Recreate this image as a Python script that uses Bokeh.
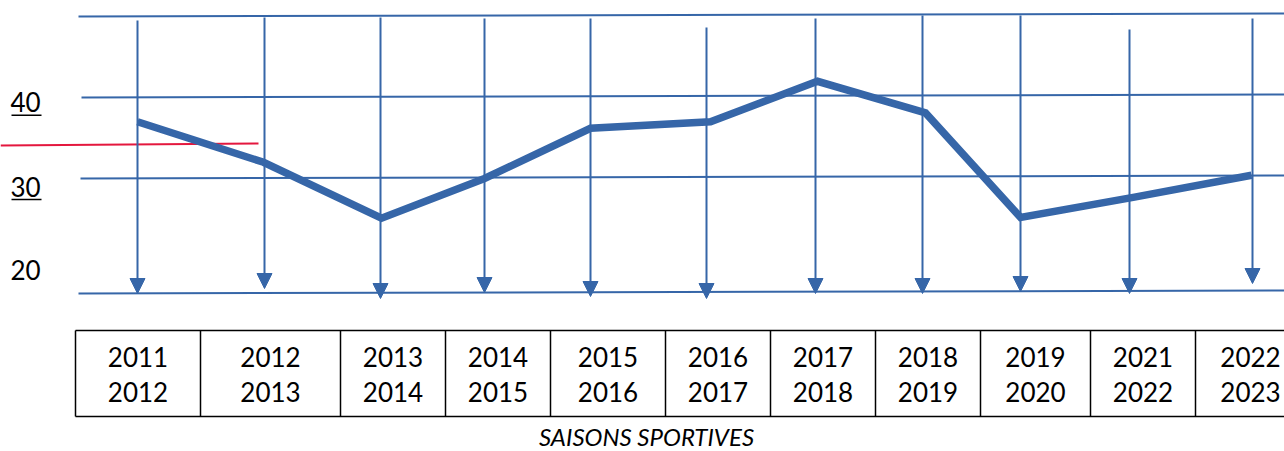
from bokeh.plotting import figure
from bokeh.models import Range1d, ColumnDataSource, Arrow, NormalHead
from bokeh.core.properties import value
from bokeh.embed import file_html
from bokeh.resources import INLINE

# ---------------- data ----------------
season_start = ["2011", "2012", "2013", "2014", "2015", "2016", "2017", "2018", "2019", "2021", "2022"]
season_end = ["2012", "2013", "2014", "2015", "2016", "2017", "2018", "2019", "2020", "2022", "2023"]
values = [37.0, 32.0, 25.1, 30.0, 36.2, 37.0, 42.0, 38.1, 25.2, 27.7, 30.4]
y_tick_values = [40, 30, 20]
y_tick_labels = ["40", "30", "20"]
y_tick_underlined = [True, True, False]
grid_levels = [50, 40, 30, 15.8]
reference_level = 34.2
axis_title = "SAISONS SPORTIVES"

# ---------------- layout ----------------
W, H = 1284, 451
PX = 8.1          # pixels per value unit
Y40 = 97          # screen y of the value 40


def vy(sy):
    """screen y (page pixels) -> value units (layout helper)"""
    return 40 - (sy - Y40) / PX


BLUE = "#3666A8"
RED = "#E4173E"
FONT = "Lato"

point_x = [137, 263, 381, 484, 590, 710, 817, 925, 1020, 1134, 1251]
arrow_x = [137, 264, 380, 484, 590, 706, 815, 922, 1020, 1129, 1252]
arrow_top = [20, 17, 17, 18, 18, 27, 18, 15, 15, 29, 18]
arrow_tip = [293, 288, 298, 292, 296, 298, 293, 293, 291, 293, 283]
grid_x0 = [78, 81, 80, 78]
col_edges = [75, 200, 340, 445, 550, 665, 770, 875, 980, 1090, 1195, 1305]
label_offsets = [0.6, 1.0, 1.35]

p = figure(width=W, height=H, output_backend="svg", toolbar_location=None,
           x_range=Range1d(0, W), y_range=Range1d(vy(H), vy(0)),
           min_border=0)
p.axis.visible = False
p.xgrid.visible = False
p.ygrid.visible = False
p.outline_line_color = None
p.background_fill_color = "white"
p.border_fill_color = "white"

# horizontal gridlines (slightly tilted, as in the drawing)
tilt = 3 / PX
p.segment(x0=grid_x0, y0=grid_levels, x1=[1300] * len(grid_levels),
          y1=[g + tilt for g in grid_levels], line_color=BLUE, line_width=2)

# vertical arrows
asrc = ColumnDataSource(dict(x=arrow_x, y0=[vy(t) for t in arrow_top],
                             y1=[vy(t) for t in arrow_tip]))
p.add_layout(Arrow(x_start="x", y_start="y0", x_end="x", y_end="y1", source=asrc,
                   line_color=BLUE, line_width=2,
                   end=NormalHead(size=15, fill_color=BLUE, line_color=BLUE, line_width=1)))

# red reference line
p.segment(x0=[0], y0=[reference_level - 0.12], x1=[258], y1=[reference_level + 0.12],
          line_color=RED, line_width=2)

# data line
p.line(point_x, values, line_color=BLUE, line_width=7.5, line_join="miter")

# y labels
ly = [v - o for v, o in zip(y_tick_values, label_offsets)]
p.text(x=[10] * 3, y=ly, text=y_tick_labels, text_font=value(FONT),
       text_font_size="26px", text_align="left", text_baseline="middle", text_color="black")
ux0 = [11 for u in y_tick_underlined if u]
uy = [y - 13 / PX for y, u in zip(ly, y_tick_underlined) if u]
p.segment(x0=ux0, y0=uy, x1=[41] * len(ux0), y1=uy, line_color="black", line_width=1.5)

# table
t_top, t_bot = vy(330), vy(416)
p.segment(x0=[75, 75], y0=[t_top, t_bot], x1=[1300, 1300], y1=[t_top, t_bot],
          line_color="black", line_width=1.5)
p.segment(x0=col_edges[:-1], y0=[t_top] * (len(col_edges) - 1),
          x1=col_edges[:-1], y1=[t_bot] * (len(col_edges) - 1),
          line_color="black", line_width=1.5)
centers = [(a + b) / 2 for a, b in zip(col_edges[:-1], col_edges[1:])]
p.text(x=centers, y=[vy(356.5)] * len(centers), text=season_start, text_font=value(FONT),
       text_font_size="26px", text_align="center", text_baseline="middle", text_color="black")
p.text(x=centers, y=[vy(391)] * len(centers), text=season_end, text_font=value(FONT),
       text_font_size="26px", text_align="center", text_baseline="middle", text_color="black")

# caption
p.text(x=[646], y=[vy(436)], text=[axis_title], text_font=value(FONT),
       text_font_size="24px", text_font_style="italic", text_align="center",
       text_baseline="middle", text_color="black")

open("out.html", "w").write(file_html(p, INLINE))
